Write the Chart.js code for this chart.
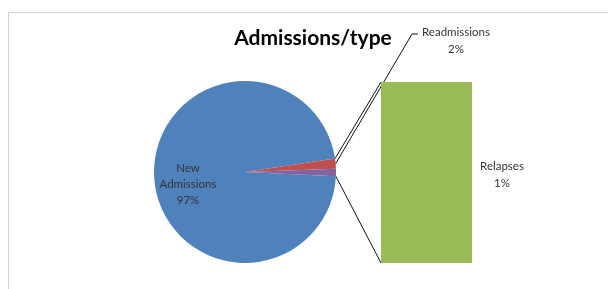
<!DOCTYPE html>
<html><head><meta charset="utf-8">
<script src="https://cdn.jsdelivr.net/npm/chart.js@4"></script>
<style>
html,body{margin:0;padding:0;background:#fff;width:608px;height:289px;overflow:hidden;}
#frame{position:absolute;left:8px;top:12px;width:700px;height:400px;border:1px solid #d4d4d4;box-sizing:border-box;}
#pie{position:absolute;left:0;top:0;}
#barWrap{position:absolute;left:381px;top:82px;width:91px;height:181px;}
</style></head><body>
<div id="frame"></div>
<canvas id="pie" width="608" height="289"></canvas>
<div id="barWrap"><canvas id="bar" width="91" height="181"></canvas></div>
<script>
const chartTitle = 'Admissions/type';
const categories = ['New Admissions', 'Readmissions', 'Relapses'];
const percentValues = [96.9, 1.8, 1.3];
const sliceColors = ['#4f81bd', '#c0504d', '#8064a2'];
const barCategories = ['Relapses'];
const barValues = [1.3];
const barColors = ['#9bbb59'];

const FONT = 'Lato, "Open Sans", sans-serif';
const total = percentValues.reduce((a, b) => a + b, 0);
const pct = v => Math.round(v / total * 100) + '%';

const barChart = new Chart(document.getElementById('bar'), {
  type: 'bar',
  data: { labels: barCategories, datasets: [{ data: barValues, backgroundColor: barColors, borderWidth: 0, barPercentage: 1, categoryPercentage: 1 }] },
  options: {
    responsive: false, animation: false, events: [],
    layout: { padding: 0 },
    plugins: { legend: { display: false }, tooltip: { enabled: false } },
    scales: {
      x: { display: false },
      y: { display: false, min: 0, max: Math.max(...barValues) }
    }
  }
});

const overlay = {
  id: 'overlay',
  afterDraw(chart) {
    const ctx = chart.ctx;
    const arcs = chart.getDatasetMeta(0).data;
    const cx = arcs[0].x, cy = arcs[0].y, r = arcs[0].outerRadius;
    const pt = a => [cx + r * Math.cos(a), cy + r * Math.sin(a)];
    const bEl = barChart.getDatasetMeta(0).data[0];
    const wrap = document.getElementById('barWrap');
    const bx = wrap.offsetLeft + bEl.x - bEl.width / 2;
    const bTop = wrap.offsetTop + bEl.y;
    const bBot = wrap.offsetTop + bEl.base;
    ctx.save();
    // title
    ctx.fillStyle = '#000';
    ctx.font = 'bold 21px ' + FONT;
    ctx.textAlign = 'center'; ctx.textBaseline = 'alphabetic';
    ctx.fillText(chartTitle, 313, 45);
    // connectors
    ctx.strokeStyle = '#111'; ctx.lineWidth = 1;
    const p1 = pt(arcs[1].startAngle);
    const p2 = pt(arcs[2].endAngle);
    ctx.beginPath(); ctx.moveTo(p1[0], p1[1]); ctx.lineTo(bx, bTop); ctx.stroke();
    ctx.beginPath(); ctx.moveTo(p2[0], p2[1]); ctx.lineTo(bx, bBot); ctx.stroke();
    // leader for Readmissions
    const pm = pt((arcs[1].startAngle + arcs[1].endAngle) / 2);
    ctx.beginPath(); ctx.moveTo(pm[0], pm[1]); ctx.lineTo(412, 34); ctx.lineTo(418, 34); ctx.stroke();
    // labels
    ctx.fillStyle = '#333';
    ctx.font = '11.5px ' + FONT;
    ctx.textBaseline = 'middle';
    const nl = categories[0].split(' ');
    ctx.fillText(nl[0], cx - 57, 168);
    ctx.fillText(nl[1], cx - 57, 184);
    ctx.fillText(pct(percentValues[0]), cx - 57, 200);
    ctx.fillText(categories[1], 456, 32);
    ctx.fillText(pct(percentValues[1]), 456, 49);
    ctx.fillText(categories[2], 502, 166);
    ctx.fillText(pct(percentValues[2]), 502, 183);
    ctx.restore();
  }
};

new Chart(document.getElementById('pie'), {
  type: 'pie',
  data: { labels: categories, datasets: [{ data: percentValues, backgroundColor: sliceColors, borderWidth: 0, hoverOffset: 0, offset: 0 }] },
  options: {
    responsive: false, animation: false, events: [],
    rotation: 92.7,
    layout: { padding: { left: 154, right: 272, top: 81, bottom: 26 } },
    plugins: { legend: { display: false }, tooltip: { enabled: false }, title: { display: false } }
  },
  plugins: [overlay]
});
</script>
</body></html>
